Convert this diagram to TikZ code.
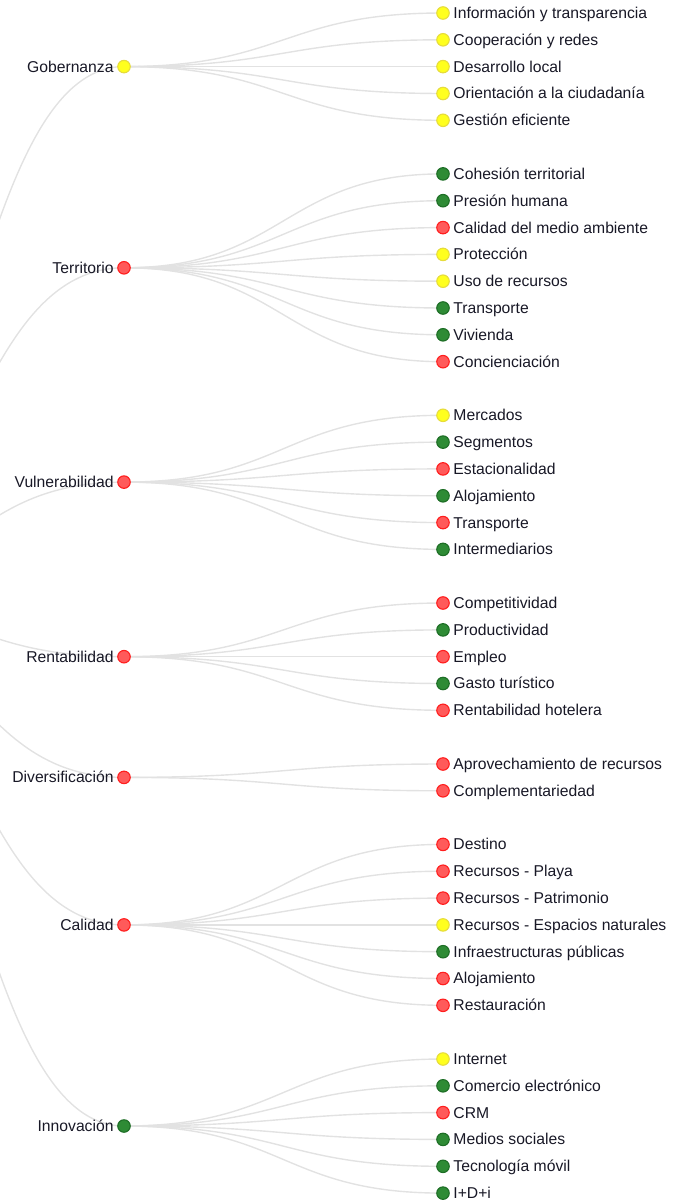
\documentclass[tikz,border=0pt]{standalone}
\usepackage{fontspec}
\setmainfont{Liberation Sans}
\usetikzlibrary{positioning,backgrounds}

\definecolor{ylwfill}{HTML}{FFFF1E}
\definecolor{ylwline}{HTML}{E6DC3C}
\definecolor{redfill}{HTML}{FF5A5A}
\definecolor{redline}{HTML}{FF1E1E}
\definecolor{grnfill}{HTML}{2E8B35}
\definecolor{grnline}{HTML}{1E6E26}
\definecolor{linkgray}{HTML}{E2E2E2}
\definecolor{txtcol}{HTML}{181826}

\begin{document}
\begin{tikzpicture}[x=1pt, y=-1pt,
  dot/.style={circle, minimum size=12.5pt, inner sep=0pt, outer sep=0pt, line width=1.1pt},
  ylw/.style={dot, fill=ylwfill, draw=ylwline},
  red/.style={dot, fill=redfill, draw=redline},
  grn/.style={dot, fill=grnfill, draw=grnline},
  lbl/.style={inner sep=0pt, text height=13pt, text depth=2.1pt, text=txtcol, font=\fontsize{15.7}{18}\selectfont},
  link/.style={draw=linkgray, line width=1.4pt}]
%\draw[help lines] (0,0) grid[step=50] (674,1201);
\useasboundingbox (0,0) rectangle (674,1201);

\coordinate (root) at (-197,596.3);

% second level
\node[ylw] (gob) at (124,66.6) {};
\node[red] (ter) at (124,267.8) {};
\node[red] (vul) at (124,482.1) {};
\node[red] (ren) at (124,656.7) {};
\node[red] (div) at (124,777.4) {};
\node[red] (cal) at (124,924.9) {};
\node[grn] (inn) at (124,1126.0) {};

\node[lbl, left=4pt of gob] (gobt) {Gobernanza};
\node[lbl, left=4pt of ter] (tert) {Territorio};
\node[lbl, left=4pt of vul] (vult) {Vulnerabilidad};
\node[lbl, left=4pt of ren] (rent) {Rentabilidad};
\node[lbl, left=4pt of div] (divt) {Diversificación};
\node[lbl, left=4pt of cal] (calt) {Calidad};
\node[lbl, left=4pt of inn] (innt) {Innovación};

% leaves
\node[ylw] (gob1) at (443,13.0) {};
\node[ylw] (gob2) at (443,39.8) {};
\node[ylw] (gob3) at (443,66.6) {};
\node[ylw] (gob4) at (443,93.5) {};
\node[ylw] (gob5) at (443,120.3) {};

\node[grn] (ter1) at (443,173.9) {};
\node[grn] (ter2) at (443,200.7) {};
\node[red] (ter3) at (443,227.6) {};
\node[ylw] (ter4) at (443,254.4) {};
\node[ylw] (ter5) at (443,281.2) {};
\node[grn] (ter6) at (443,308.0) {};
\node[grn] (ter7) at (443,334.8) {};
\node[red] (ter8) at (443,361.7) {};

\node[ylw] (vul1) at (443,415.3) {};
\node[grn] (vul2) at (443,442.1) {};
\node[red] (vul3) at (443,468.9) {};
\node[grn] (vul4) at (443,495.8) {};
\node[red] (vul5) at (443,522.6) {};
\node[grn] (vul6) at (443,549.4) {};

\node[red] (ren1) at (443,603.0) {};
\node[grn] (ren2) at (443,629.9) {};
\node[red] (ren3) at (443,656.7) {};
\node[grn] (ren4) at (443,683.5) {};
\node[red] (ren5) at (443,710.3) {};

\node[red] (div1) at (443,764.0) {};
\node[red] (div2) at (443,790.8) {};

\node[red] (cal1) at (443,844.4) {};
\node[red] (cal2) at (443,871.2) {};
\node[red] (cal3) at (443,898.1) {};
\node[ylw] (cal4) at (443,924.9) {};
\node[grn] (cal5) at (443,951.7) {};
\node[red] (cal6) at (443,978.5) {};
\node[red] (cal7) at (443,1005.3) {};

\node[ylw] (inn1) at (443,1059.0) {};
\node[grn] (inn2) at (443,1085.8) {};
\node[red] (inn3) at (443,1112.6) {};
\node[grn] (inn4) at (443,1139.4) {};
\node[grn] (inn5) at (443,1166.3) {};
\node[grn] (inn6) at (443,1193.1) {};

\node[lbl, right=4pt of gob1] (gob1t) {Información y transparencia};
\node[lbl, right=4pt of gob2] (gob2t) {Cooperación y redes};
\node[lbl, right=4pt of gob3] (gob3t) {Desarrollo local};
\node[lbl, right=4pt of gob4] (gob4t) {Orientación a la ciudadanía};
\node[lbl, right=4pt of gob5] (gob5t) {Gestión eficiente};

\node[lbl, right=4pt of ter1] (ter1t) {Cohesión territorial};
\node[lbl, right=4pt of ter2] (ter2t) {Presión humana};
\node[lbl, right=4pt of ter3] (ter3t) {Calidad del medio ambiente};
\node[lbl, right=4pt of ter4] (ter4t) {Protección};
\node[lbl, right=4pt of ter5] (ter5t) {Uso de recursos};
\node[lbl, right=4pt of ter6] (ter6t) {Transporte};
\node[lbl, right=4pt of ter7] (ter7t) {Vivienda};
\node[lbl, right=4pt of ter8] (ter8t) {Concienciación};

\node[lbl, right=4pt of vul1] (vul1t) {Mercados};
\node[lbl, right=4pt of vul2] (vul2t) {Segmentos};
\node[lbl, right=4pt of vul3] (vul3t) {Estacionalidad};
\node[lbl, right=4pt of vul4] (vul4t) {Alojamiento};
\node[lbl, right=4pt of vul5] (vul5t) {Transporte};
\node[lbl, right=4pt of vul6] (vul6t) {Intermediarios};

\node[lbl, right=4pt of ren1] (ren1t) {Competitividad};
\node[lbl, right=4pt of ren2] (ren2t) {Productividad};
\node[lbl, right=4pt of ren3] (ren3t) {Empleo};
\node[lbl, right=4pt of ren4] (ren4t) {Gasto turístico};
\node[lbl, right=4pt of ren5] (ren5t) {Rentabilidad hotelera};

\node[lbl, right=4pt of div1] (div1t) {Aprovechamiento de recursos};
\node[lbl, right=4pt of div2] (div2t) {Complementariedad};

\node[lbl, right=4pt of cal1] (cal1t) {Destino};
\node[lbl, right=4pt of cal2] (cal2t) {Recursos - Playa};
\node[lbl, right=4pt of cal3] (cal3t) {Recursos - Patrimonio};
\node[lbl, right=4pt of cal4] (cal4t) {Recursos - Espacios naturales};
\node[lbl, right=4pt of cal5] (cal5t) {Infraestructuras públicas};
\node[lbl, right=4pt of cal6] (cal6t) {Alojamiento};
\node[lbl, right=4pt of cal7] (cal7t) {Restauración};

\node[lbl, right=4pt of inn1] (inn1t) {Internet};
\node[lbl, right=4pt of inn2] (inn2t) {Comercio electrónico};
\node[lbl, right=4pt of inn3] (inn3t) {CRM};
\node[lbl, right=4pt of inn4] (inn4t) {Medios sociales};
\node[lbl, right=4pt of inn5] (inn5t) {Tecnología móvil};
\node[lbl, right=4pt of inn6] (inn6t) {I+D+i};

\begin{pgfonlayer}{background}
\clip (0,0) rectangle (674,1201);

% root to second level
\draw[link] (root) .. controls +(160,0) and +(-160,0) .. (gob.center);
\draw[link] (root) .. controls +(160,0) and +(-160,0) .. (ter.center);
\draw[link] (root) .. controls +(160,0) and +(-160,0) .. (vul.center);
\draw[link] (root) .. controls +(160,0) and +(-160,0) .. (ren.center);
\draw[link] (root) .. controls +(160,0) and +(-160,0) .. (div.center);
\draw[link] (root) .. controls +(160,0) and +(-160,0) .. (cal.center);
\draw[link] (root) .. controls +(160,0) and +(-160,0) .. (inn.center);

% second level to leaves
\draw[link] (gob.center) .. controls +(160,0) and +(-160,0) .. (gob1.center);
\draw[link] (gob.center) .. controls +(160,0) and +(-160,0) .. (gob2.center);
\draw[link] (gob.center) .. controls +(160,0) and +(-160,0) .. (gob3.center);
\draw[link] (gob.center) .. controls +(160,0) and +(-160,0) .. (gob4.center);
\draw[link] (gob.center) .. controls +(160,0) and +(-160,0) .. (gob5.center);

\draw[link] (ter.center) .. controls +(160,0) and +(-160,0) .. (ter1.center);
\draw[link] (ter.center) .. controls +(160,0) and +(-160,0) .. (ter2.center);
\draw[link] (ter.center) .. controls +(160,0) and +(-160,0) .. (ter3.center);
\draw[link] (ter.center) .. controls +(160,0) and +(-160,0) .. (ter4.center);
\draw[link] (ter.center) .. controls +(160,0) and +(-160,0) .. (ter5.center);
\draw[link] (ter.center) .. controls +(160,0) and +(-160,0) .. (ter6.center);
\draw[link] (ter.center) .. controls +(160,0) and +(-160,0) .. (ter7.center);
\draw[link] (ter.center) .. controls +(160,0) and +(-160,0) .. (ter8.center);

\draw[link] (vul.center) .. controls +(160,0) and +(-160,0) .. (vul1.center);
\draw[link] (vul.center) .. controls +(160,0) and +(-160,0) .. (vul2.center);
\draw[link] (vul.center) .. controls +(160,0) and +(-160,0) .. (vul3.center);
\draw[link] (vul.center) .. controls +(160,0) and +(-160,0) .. (vul4.center);
\draw[link] (vul.center) .. controls +(160,0) and +(-160,0) .. (vul5.center);
\draw[link] (vul.center) .. controls +(160,0) and +(-160,0) .. (vul6.center);

\draw[link] (ren.center) .. controls +(160,0) and +(-160,0) .. (ren1.center);
\draw[link] (ren.center) .. controls +(160,0) and +(-160,0) .. (ren2.center);
\draw[link] (ren.center) .. controls +(160,0) and +(-160,0) .. (ren3.center);
\draw[link] (ren.center) .. controls +(160,0) and +(-160,0) .. (ren4.center);
\draw[link] (ren.center) .. controls +(160,0) and +(-160,0) .. (ren5.center);

\draw[link] (div.center) .. controls +(160,0) and +(-160,0) .. (div1.center);
\draw[link] (div.center) .. controls +(160,0) and +(-160,0) .. (div2.center);

\draw[link] (cal.center) .. controls +(160,0) and +(-160,0) .. (cal1.center);
\draw[link] (cal.center) .. controls +(160,0) and +(-160,0) .. (cal2.center);
\draw[link] (cal.center) .. controls +(160,0) and +(-160,0) .. (cal3.center);
\draw[link] (cal.center) .. controls +(160,0) and +(-160,0) .. (cal4.center);
\draw[link] (cal.center) .. controls +(160,0) and +(-160,0) .. (cal5.center);
\draw[link] (cal.center) .. controls +(160,0) and +(-160,0) .. (cal6.center);
\draw[link] (cal.center) .. controls +(160,0) and +(-160,0) .. (cal7.center);

\draw[link] (inn.center) .. controls +(160,0) and +(-160,0) .. (inn1.center);
\draw[link] (inn.center) .. controls +(160,0) and +(-160,0) .. (inn2.center);
\draw[link] (inn.center) .. controls +(160,0) and +(-160,0) .. (inn3.center);
\draw[link] (inn.center) .. controls +(160,0) and +(-160,0) .. (inn4.center);
\draw[link] (inn.center) .. controls +(160,0) and +(-160,0) .. (inn5.center);
\draw[link] (inn.center) .. controls +(160,0) and +(-160,0) .. (inn6.center);
\end{pgfonlayer}

\end{tikzpicture}
\end{document}
